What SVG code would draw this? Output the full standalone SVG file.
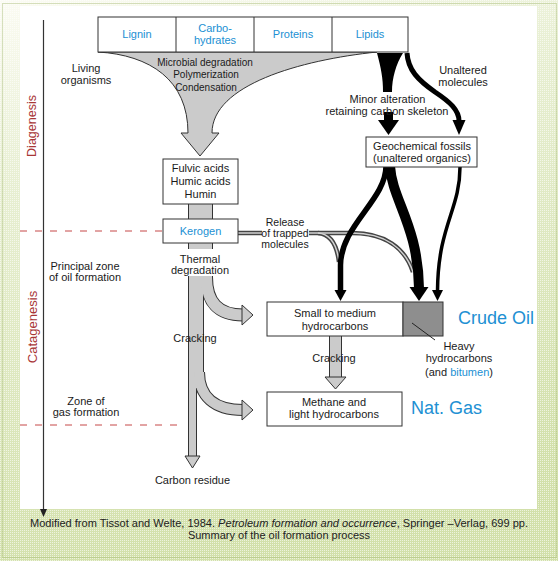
<svg xmlns="http://www.w3.org/2000/svg" width="558" height="561" viewBox="0 0 558 561">
<defs>
<linearGradient id="bg" x1="0" y1="0" x2="0.25" y2="1">
<stop offset="0" stop-color="#fbfbf3"/>
<stop offset="0.3" stop-color="#e8efd3"/>
<stop offset="1" stop-color="#d2e0aa"/>
</linearGradient>
<pattern id="dots" width="2" height="2" patternUnits="userSpaceOnUse"><rect width="1" height="1" fill="#ffffff" fill-opacity="0.6"/></pattern>
</defs>
<style>
text{font-family:"Liberation Sans",Arial,sans-serif;font-size:11px;fill:#1a1a1a;text-anchor:middle}
.blue{fill:#2190d3}
.red{fill:#a83636;font-size:12.5px}
.big{font-size:18px;text-anchor:start;fill:#2190d3}
.sm{font-size:10px}
.rel{font-size:10.5px}
.box{fill:#fff;stroke:#333;stroke-width:1}
.to{fill:none;stroke:#333}
.ti{fill:none;stroke:#cbcbcb}
.ah{fill:#cbcbcb;stroke:#333;stroke-width:1;stroke-linejoin:miter}
.blk{fill:none;stroke:#000}
.bh{fill:#000}
.dlo{fill:none;stroke:#444;stroke-width:4.5}
.dli{fill:none;stroke:#d2d2d2;stroke-width:1.5}
.dash{stroke:#c54848;stroke-width:1;stroke-dasharray:7 8;fill:none}
.cap{font-family:"Liberation Sans",Arial,sans-serif;font-size:11px;fill:#222}
</style>

<g id="background">
<rect x="0" y="0" width="558" height="561" fill="url(#bg)"/>
<rect x="0" y="0" width="558" height="561" fill="url(#dots)"/>
<rect x="2.5" y="3.5" width="554" height="554" fill="none" stroke="#9db46a" stroke-width="1" stroke-dasharray="1 1" stroke-opacity="0.8"/>
<rect x="20" y="6" width="517" height="503" fill="#ffffff"/>
</g>

<g id="axis">
<line x1="43.5" y1="20" x2="43.5" y2="510" stroke="#333" stroke-width="1.2"/>
<polygon points="40,509 47,509 43.5,517" fill="#222"/>
<line class="dash" x1="20" y1="231" x2="162" y2="231"/>
<line class="dash" x1="20" y1="425" x2="181" y2="425"/>
<text class="red" transform="translate(36,126) rotate(-90)">Diagenesis</text>
<text class="red" style="font-size:13px" transform="translate(36.5,327) rotate(-90)">Catagenesis</text>
</g>

<g id="connectors">
<path id="funnel" d="M98,52 C150,55 188,80 188,133 L181,133 L200,156 L219,133 L212,133 C212,85 300,60 377,52 Z" fill="#cbcbcb" stroke="#333" stroke-width="1"/>
<path d="M377,53 C381,68 383,78 383,92 L392,92 C392,78 396,64 403,53 Z" class="bh"/>
<rect x="384" y="112" width="9" height="9" class="bh"/>
<polygon points="378,120 399,120 388.5,135" class="bh"/>
<path d="M407,53 C408,70 418,80 435,92 C450,102 459,110 459,121" class="blk" stroke-width="5"/>
<polygon points="452.5,120 465.5,120 459,135" class="bh"/>

<g id="main-stream">
<path class="to" stroke-width="25" d="M200.5,204 L200.5,288"/>
<path class="to" stroke-width="16" d="M196,282 L196,388"/>
<path class="to" stroke-width="9" d="M192.5,380 L192.5,457"/>
<path class="to" stroke-width="13" d="M206.5,277 C206.5,302 218,315 243,315"/>
<path class="to" stroke-width="12" d="M199,372 C199,396 214,410 243,410"/>
<path class="ti" stroke-width="23" d="M200.5,204 L200.5,288"/>
<path class="ti" stroke-width="14" d="M196,282 L196,388"/>
<path class="ti" stroke-width="7" d="M192.5,380 L192.5,457"/>
<path class="ti" stroke-width="11" d="M206.5,277 C206.5,302 218,315 243,315"/>
<path class="ti" stroke-width="10" d="M199,372 C199,396 214,410 243,410"/>
<polygon class="ah" points="242,305 253,315 242,325"/>
<polygon class="ah" points="242,400 253,410 242,420"/>
<polygon class="ah" points="185,456 200,456 192.5,468"/>
</g>

<g id="cracking-arrow">
<path class="to" stroke-width="13" d="M335.5,336 L335.5,378"/>
<path class="ti" stroke-width="11" d="M335.5,336 L335.5,378"/>
<polygon class="ah" points="325,377 346,377 335.5,389"/>
</g>

<g id="release">
<path class="dlo" d="M238,233 L262,233"/>
<path class="dlo" d="M309,233 L352,233 C385,233 405,248 413,272"/>
<path class="dlo" d="M318,233 C330,234 337,245 339,262"/>
<path class="dli" d="M238,233 L262,233"/>
<path class="dli" d="M309,233 L352,233 C385,233 405,248 413,272"/>
<path class="dli" d="M318,233 C330,234 337,245 339,262"/>
</g>

<g id="fossil-flows">
<path class="blk" stroke-width="5.5" d="M386,166 C386,200 341,225 340.5,265 L340.5,291"/>
<path class="blk" stroke-width="10" d="M390,166 C392,200 418,225 419,288"/>
<path class="blk" stroke-width="3.5" d="M460,167 C460,210 438,225 437.5,291"/>
<polygon class="bh" points="334.5,290 346.5,290 340.5,301"/>
<polygon class="bh" points="409.5,287 428.5,287 419,301"/>
<polygon class="bh" points="432,290 443,290 437.5,301"/>
</g>
</g>

<g id="sources">
<rect class="box" x="98" y="17" width="310" height="35"/>
<line x1="176" y1="17" x2="176" y2="52" stroke="#333"/>
<line x1="254" y1="17" x2="254" y2="52" stroke="#333"/>
<line x1="332" y1="17" x2="332" y2="52" stroke="#333"/>
<text class="blue" x="137" y="38">Lignin</text>
<text class="blue" x="215" y="32">Carbo-</text>
<text class="blue" x="215" y="43.5">hydrates</text>
<text class="blue" x="293" y="38">Proteins</text>
<text class="blue" x="370" y="38">Lipids</text>
</g>

<g id="funnel-labels">
<text class="sm" x="205" y="65.5">Microbial degradation</text>
<text class="sm" x="206" y="78">Polymerization</text>
<text class="sm" x="206" y="90.5">Condensation</text>
</g>

<g id="labels">
<text x="86" y="72">Living</text>
<text x="86" y="84">organisms</text>
<text x="387.5" y="103">Minor alteration</text>
<text x="387" y="115">retaining carbon skeleton</text>
<text x="463" y="74">Unaltered</text>
<text x="463" y="86">molecules</text>
<text class="rel" x="285" y="226">Release</text>
<text class="rel" x="285" y="237">of trapped</text>
<text class="rel" x="285" y="248">molecules</text>
<rect x="170" y="249" width="60" height="27" fill="#fff"/>
<text x="200" y="262.5">Thermal</text>
<text x="200" y="274">degradation</text>
<text x="85" y="270">Principal zone</text>
<text x="85" y="281">of oil formation</text>
<text x="195" y="342">Cracking</text>
<text x="334" y="362">Cracking</text>
<text x="86" y="405">Zone of</text>
<text x="86" y="416">gas formation</text>
<text x="192.5" y="484">Carbon residue</text>
<text x="459" y="350">Heavy</text>
<text x="459" y="362">hydrocarbons</text>
<text x="459" y="376">(and <tspan class="blue">bitumen</tspan>)</text>
<text class="big" x="458" y="323.5">Crude Oil</text>
<text class="big" x="411" y="414">Nat. Gas</text>
</g>

<g id="fulvic">
<rect class="box" x="163" y="159" width="75" height="45"/>
<text x="200.5" y="172">Fulvic acids</text>
<text x="200.5" y="185">Humic acids</text>
<text x="200.5" y="197.5">Humin</text>
</g>

<g id="kerogen">
<rect class="box" x="163" y="219" width="75" height="24"/>
<text class="blue" x="200.5" y="235">Kerogen</text>
</g>

<g id="geochemical">
<rect class="box" x="366" y="137" width="111" height="30"/>
<text x="422" y="150">Geochemical fossils</text>
<text x="422" y="161.5">(unaltered organics)</text>
</g>

<g id="crude">
<rect class="box" x="267" y="302" width="136" height="34"/>
<rect x="403" y="302" width="40" height="34" fill="#8e8e8e" stroke="#333" stroke-width="1"/>
<line x1="412" y1="323" x2="435" y2="340" stroke="#222" stroke-width="1"/>
<text x="335" y="317">Small to medium</text>
<text x="335" y="330">hydrocarbons</text>
</g>

<g id="methane">
<rect class="box" x="267" y="392" width="135" height="34"/>
<text x="334" y="406">Methane and</text>
<text x="334" y="418">light hydrocarbons</text>
</g>

<g id="caption">
<text class="cap" x="30" y="527" style="text-anchor:start" textLength="498" lengthAdjust="spacingAndGlyphs">Modified from Tissot and Welte, 1984. <tspan font-style="italic">Petroleum formation and occurrence</tspan>, Springer –Verlag, 699 pp.</text>
<text class="cap" x="279" y="539">Summary of the oil formation process</text>
</g>
</svg>
